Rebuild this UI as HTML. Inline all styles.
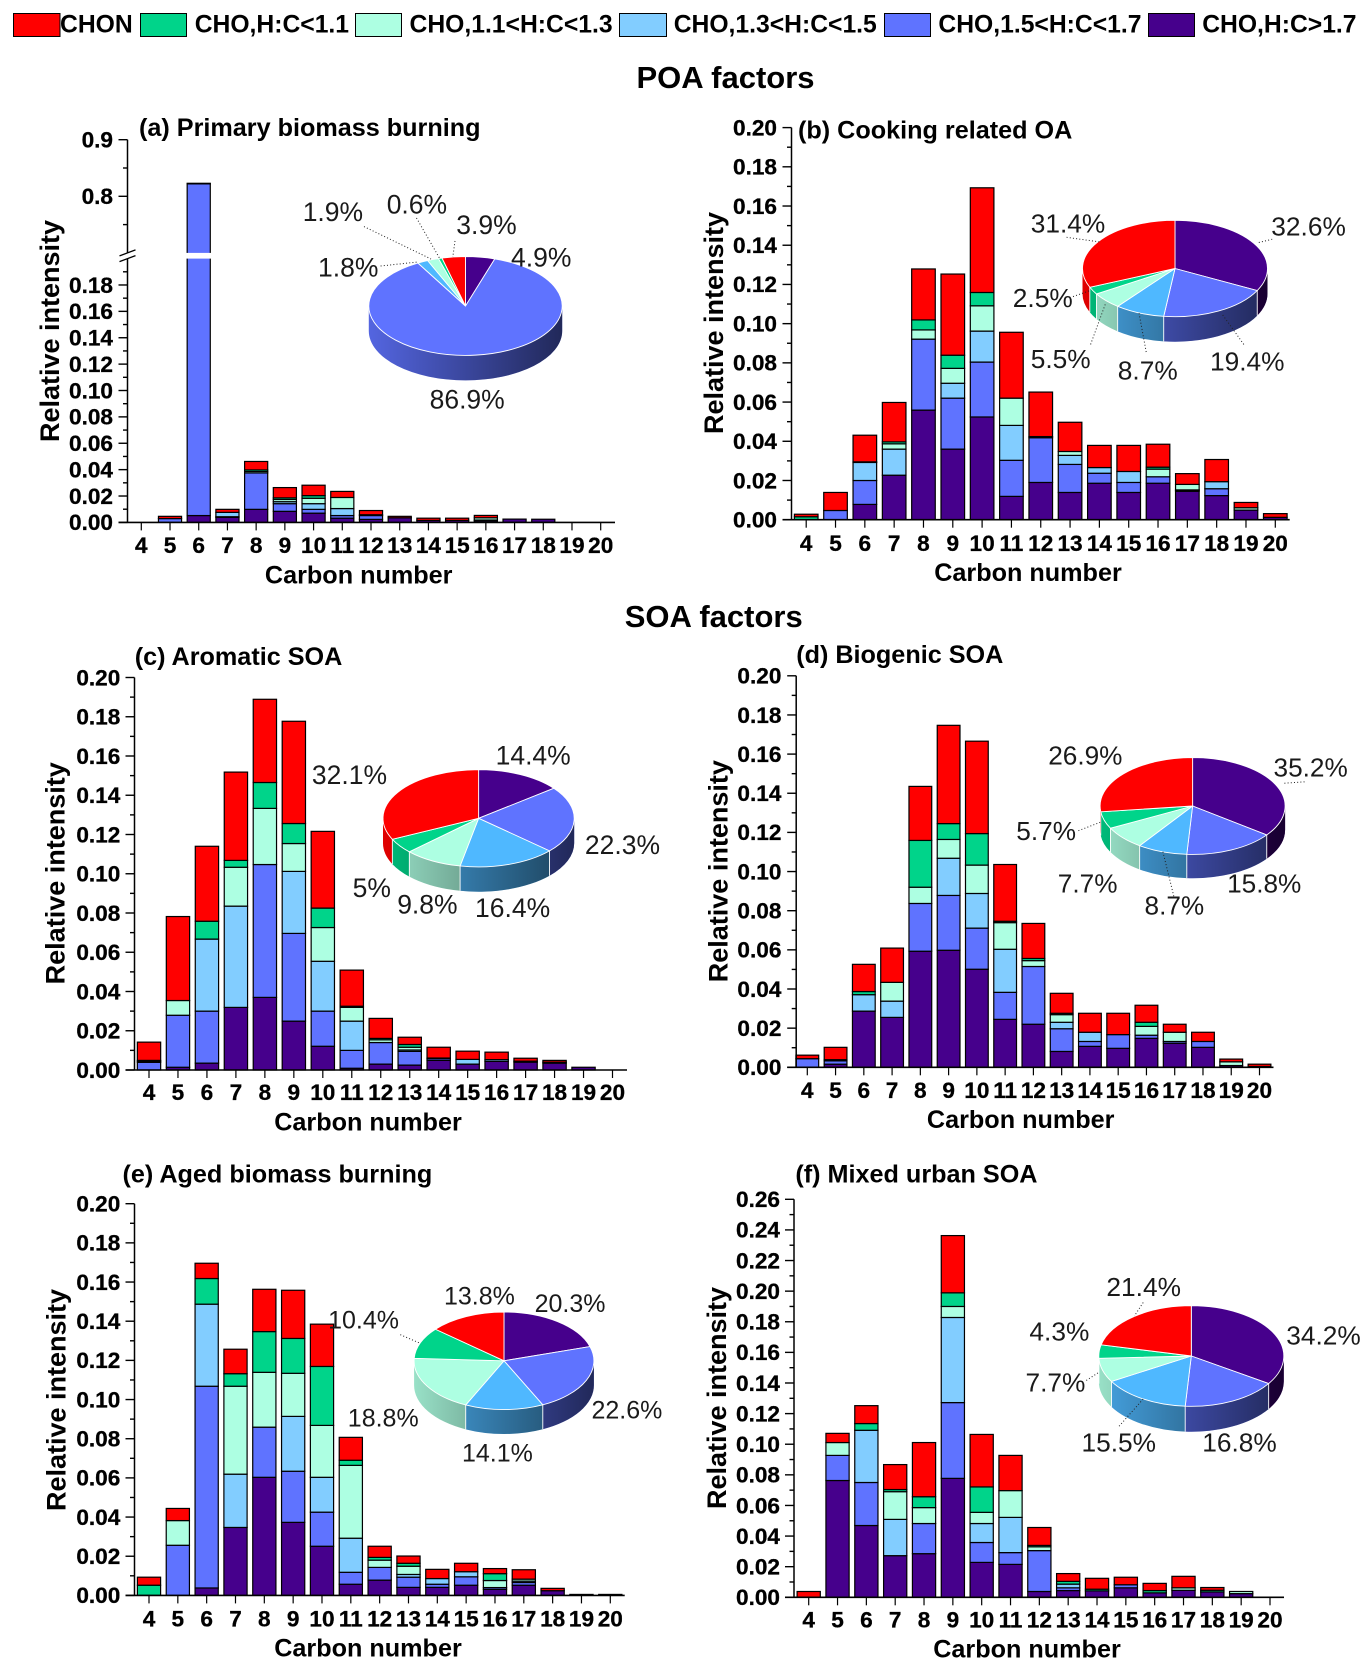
<!DOCTYPE html>
<html lang="en">
<head>
<meta charset="utf-8">
<title>Carbon number distribution of OA factors</title>
<style>
html,body{margin:0;padding:0;background:#fff;}
svg{display:block;font-family:"Liberation Sans",Arial,sans-serif;}
.legend-text{font-size:24.7px;font-weight:700;fill:#000;}
.section{font-size:31px;font-weight:700;fill:#000;}
</style>
</head>
<body>
<svg id="root" xmlns="http://www.w3.org/2000/svg" width="1372" height="1671" viewBox="0 0 1372 1671">
  <rect x="0" y="0" width="1372" height="1671" fill="#fff"/>
  <g>
    <g><rect x="13.5" y="13.5" width="46.5" height="23" fill="#FF0000" stroke="#000" stroke-width="1"/><text class="legend-text" x="60" y="32.5">CHON</text></g>
    <g><rect x="140.5" y="13.5" width="46" height="23" fill="#00D48A" stroke="#000" stroke-width="1"/><text class="legend-text" x="194.7" y="32.5">CHO,H:C&lt;1.1</text></g>
    <g><rect x="355.5" y="13.5" width="46" height="23" fill="#ADFFE2" stroke="#000" stroke-width="1"/><text class="legend-text" x="409.5" y="32.5">CHO,1.1&lt;H:C&lt;1.3</text></g>
    <g><rect x="619.5" y="13.5" width="47" height="23" fill="#82CDFF" stroke="#000" stroke-width="1"/><text class="legend-text" x="673.7" y="32.5">CHO,1.3&lt;H:C&lt;1.5</text></g>
    <g><rect x="884.5" y="13.5" width="46" height="23" fill="#5F73FF" stroke="#000" stroke-width="1"/><text class="legend-text" x="938.4" y="32.5">CHO,1.5&lt;H:C&lt;1.7</text></g>
    <g><rect x="1148.5" y="13.5" width="46" height="23" fill="#46008C" stroke="#000" stroke-width="1"/><text class="legend-text" x="1202.2" y="32.5">CHO,H:C&gt;1.7</text></g>
  </g>
  <text class="section" x="636.5" y="88">POA factors</text>
  <text class="section" x="624.7" y="627">SOA factors</text>
</svg>
<script>
// Categories and axis labels
const carbonNumbers = [4,5,6,7,8,9,10,11,12,13,14,15,16,17,18,19,20];
const yTickLabels = ['0.00','0.02','0.04','0.06','0.08','0.10','0.12','0.14','0.16','0.18','0.20'];
const yTickLabelsF = ['0.00','0.02','0.04','0.06','0.08','0.10','0.12','0.14','0.16','0.18','0.20','0.22','0.24','0.26'];
const yTickLabelsA = ['0.00','0.02','0.04','0.06','0.08','0.10','0.12','0.14','0.16','0.18','0.8','0.9'];
const yMinorValues = [0.01,0.03,0.05,0.07,0.09,0.11,0.13,0.15,0.17,0.19];
const yMinorValuesF = [0.01,0.03,0.05,0.07,0.09,0.11,0.13,0.15,0.17,0.19,0.21,0.23,0.25];
const yMinorValuesA = [0.01,0.03,0.05,0.07,0.09,0.11,0.13,0.15,0.17,0.19,0.75,0.85];

// (a) Primary biomass burning
const aPurple=[0,0,.0052,.0038,.0099,.0084,.007,.0032,.0023,.0035,.0015,.0015,.0012,.0025,.0024,0,0];
const aBlue=[0,.0029,.8168,.0005,.0276,.0058,.0029,.002,.0029,0,0,0,.0006,0,0,0,0];
const aLight=[0,0,0,.0033,0,.0015,.0043,.0053,.0006,0,0,0,0,0,0,0,0];
const aMint=[0,0,0,0,.0011,.0017,.0041,.0084,0,0,0,0,.0017,0,0,0,0];
const aGreen=[0,0,0,0,.0012,.0012,.002,0,0,0,0,0,0,0,0,0,0];
const aRed=[0,.0017,.001,.0023,.0064,.0078,.0079,.0046,.0032,.0011,.0017,.0017,.0018,0,0,0,0];
const aShares=[4.9,86.9,1.8,1.9,0.6,3.9];

// (b) Cooking related OA
const bPurple=[0,0,.0078,.0227,.0559,.036,.0524,.0119,.019,.0139,.0186,.0139,.0186,.0145,.0123,.0049,.0012];
const bBlue=[0,.0047,.0122,0,.0362,.026,.028,.0184,.0228,.0143,.0051,.0051,.0033,.0005,.0035,0,0];
const bLight=[0,0,.0092,.0133,0,.0076,.0158,.0178,0,.0046,.0029,.0056,0,.0002,.0036,0,0];
const bMint=[0,0,.0003,.0027,.0047,.0076,.0129,.0139,0,.002,0,0,.0039,.0028,0,.0012,0];
const bGreen=[.0015,0,0,.001,.0051,.0067,.0068,0,.0006,0,0,0,.001,0,0,0,0];
const bRed=[.0013,.0092,.0136,.0201,.026,.0414,.0534,.0336,.0227,.0149,.0113,.0133,.0117,.0055,.0113,.0027,.0019];
const bShares=[32.6,19.4,8.7,5.5,2.5,31.4];

// (c) Aromatic SOA
const cPurple=[0,.0014,.0035,.0319,.037,.0249,.0121,.0009,.003,.0025,.0049,.003,.0044,.004,.0035,.0014,0];
const cBlue=[.0039,.0265,.0265,0,.0677,.0447,.0179,.0091,.011,.007,.0009,0,0,.0005,.0005,0,0];
const cLight=[0,0,.0367,.0516,0,.0316,.0254,.0149,0,.0007,.0003,.0024,.0009,0,0,0,0];
const cMint=[.0005,.0075,0,.0198,.0286,.0142,.0172,.007,.0014,.0014,0,0,0,0,0,0,0];
const cGreen=[.0005,0,.0091,.0035,.0132,.0102,.0099,.0006,.0007,.0014,0,0,0,0,0,0,0];
const cRed=[.0093,.0428,.0382,.045,.0424,.0521,.0391,.0184,.0102,.0037,.0055,.0042,.0038,.0015,.0009,0,0];
const cShares=[14.4,22.3,16.4,9.8,5,32.1];

// (d) Biogenic SOA
const dPurple=[0,.0016,.0287,.0255,.0593,.0598,.0501,.0245,.022,.0081,.0107,.0097,.0148,.0123,.0102,.0009,.0004];
const dBlue=[.0044,.0017,0,0,.0244,.028,.021,.0138,.0295,.0116,.0025,.007,.0016,.0009,.003,0,0];
const dLight=[0,.0006,.0084,.0083,0,.019,.0177,.022,0,.0033,.0047,0,0,0,0,0,0];
const dMint=[0,0,0,.0096,.0083,.0096,.0145,.0136,.003,.0039,0,0,.0045,.0047,0,.0019,0];
const dGreen=[0,0,.0016,0,.0239,.0081,.0161,.0007,.0011,.0007,0,0,.0021,0,0,0,0];
const dRed=[.0018,.0063,.0139,.0175,.0276,.0502,.0472,.029,.0179,.0102,.0097,.0109,.0087,.0041,.0047,.0014,.0012];
const dShares=[35.2,15.8,8.7,7.7,5.7,26.9];

// (e) Aged biomass burning
const ePurple=[0,0,.0038,.0347,.0603,.0373,.0251,.0057,.0078,.0041,.0041,.0052,.0031,.0052,.0024,.0005,.0005];
const eBlue=[0,.0256,.103,0,.0256,.0261,.0174,.0061,.0065,.0052,.0016,.0043,.0009,.0014,0,0,0];
const eLight=[0,0,.0419,.0272,0,.028,.0178,.0174,0,.0014,.0029,.0026,0,.0007,0,0,0];
const eMint=[0,.0126,0,.0449,.028,.022,.0265,.0372,.0037,.0042,0,0,.0036,.001,0,0,0];
const eGreen=[.0052,0,.0131,.0064,.0208,.0178,.0301,.0026,.0014,.0015,0,0,.0035,0,0,0,0];
const eRed=[.0041,.0062,.0078,.0125,.0216,.0246,.0216,.0117,.0057,.0037,.0047,.0043,.0026,.0048,.0012,0,0];
const eShares=[20.3,22.6,14.1,18.8,10.4,13.8];

// (f) Mixed urban SOA
const fPurple=[0,.0763,.0469,.0272,.0285,.0777,.0228,.0215,.0038,.0044,.0042,.0062,.0029,.0046,.0035,.0024,0];
const fBlue=[0,.0164,.0281,0,.0197,.0495,.013,.0077,.0267,.0018,0,.002,0,0,0,0,0];
const fLight=[0,0,.0341,.0237,0,.0556,.0124,.023,0,.0024,0,0,0,0,0,0,0];
const fMint=[0,.0084,0,.0181,.0104,.0072,.0073,.0175,.0025,0,0,0,0,.0016,0,.0014,0];
const fGreen=[0,0,.0044,.0014,.0071,.0089,.0166,0,.0009,.0018,.0011,0,.0015,0,.0011,0,0];
const fRed=[.0038,.006,.0117,.0163,.0354,.0374,.0343,.023,.0117,.0051,.0071,.0049,.0047,.0075,.0018,0,0];
const fShares=[34.2,16.8,15.5,7.7,4.3,21.4];

const seriesNames=['cho-above-1-7','cho-1-5-to-1-7','cho-1-3-to-1-5','cho-1-1-to-1-3','cho-below-1-1','chon'];
const barColors=['#46008C','#5F73FF','#82CDFF','#ADFFE2','#00D48A','#FF0000'];
const pieColors=['#46008C','#5F73FF','#4FB8FF','#ADFFE2','#00D48A','#FF0000'];

const NS='http://www.w3.org/2000/svg';
const root=document.getElementById('root');
function make(parent,tag,attrs,text){
  const el=document.createElementNS(NS,tag);
  for(const k in attrs){el.setAttribute(k,attrs[k]);}
  if(text!==undefined){el.textContent=text;}
  parent.appendChild(el);
  return el;
}

const panels=[
 {id:'a',title:'(a) Primary biomass burning',titleX:139,titleY:135.9,spine:127.5,right:615,x4:141.3,x20:600.7,y0:522.4,yMax:0.2,yTop:258.6,
  broken:{k:566,y8:196.3,top:139.7,gapTop:252.9,gapBottom:258.6},ticks:yTickLabelsA,minor:yMinorValuesA,tickEnd:113,labelSize:26.5,
  series:[aPurple,aBlue,aLight,aMint,aGreen,aRed],shares:aShares,
  pie:{cx:465.5,cy:306,rx:96.7,ry:49.4,d:25},
  spots:[[511,266.7],[429.6,408.7],[318,276.3],[302.7,221.2],[386.7,213.5],[456.3,234.2]],
  leaders:[[364,226.6,431,259],[416.5,218,439.6,258.3],[455,241,452.8,257],[380.6,266,417.8,262]],
  xLabelY:553,xTitleY:583.6,xTitleX:358.7,yTitleX:59,yTitleY:331},
 {id:'b',title:'(b) Cooking related OA',titleX:798,titleY:138.5,spine:791.5,right:1289.7,x4:806.2,x20:1275.3,y0:519.7,yMax:0.2,yTop:127.6,
  ticks:yTickLabels,minor:yMinorValues,tickEnd:777,labelSize:26.3,
  series:[bPurple,bBlue,bLight,bMint,bGreen,bRed],shares:bShares,
  pie:{cx:1175,cy:268.5,rx:92.5,ry:48.2,d:25},
  spots:[[1271.3,235.3],[1210,370.4],[1117.8,379.6],[1030.7,368.1],[1012.8,306.9],[1030.7,232.3]],
  leaders:[[1066.6,237.3,1099.4,241.9],[1272.2,239.2,1256.9,243],[1073,296.6,1089.3,290.8],[1090.6,344.4,1106,302.3],[1146.2,352,1138.8,311.9],[1243.8,344.4,1221.9,313.8]],
  xLabelY:551,xTitleY:581,xTitleX:1028,yTitleX:723,yTitleY:323},
 {id:'c',title:'(c) Aromatic SOA',titleX:134.7,titleY:664.8,spine:134.5,right:627,x4:149,x20:612.5,y0:1070,yMax:0.2,yTop:677.5,
  ticks:yTickLabels,minor:yMinorValues,tickEnd:120.3,labelSize:26.5,
  series:[cPurple,cBlue,cLight,cMint,cGreen,cRed],shares:cShares,
  pie:{cx:478.6,cy:818.3,rx:95.6,ry:48.6,d:24.8},
  spots:[[495.6,764.6],[584.9,853.8],[475,916.8],[397.2,913.4],[352.6,896.9],[311.9,784.2]],
  leaders:[],
  xLabelY:1100,xTitleY:1130.3,xTitleX:368,yTitleX:64.7,yTitleY:873.3},
 {id:'d',title:'(d) Biogenic SOA',titleX:796.2,titleY:663,spine:796.2,right:1273.5,x4:807.3,x20:1259.5,y0:1067.3,yMax:0.2,yTop:675.8,
  ticks:yTickLabels,minor:yMinorValues,tickEnd:781.4,labelSize:26.2,
  series:[dPurple,dBlue,dLight,dMint,dGreen,dRed],shares:dShares,
  pie:{cx:1192.6,cy:806,rx:92.5,ry:48.4,d:23.8},
  spots:[[1273.5,776.3],[1227.1,892.7],[1144.5,914.4],[1057.8,892.7],[1016.3,840],[1048.2,764.6]],
  leaders:[[1284.4,783.2,1305,781.8],[1078.4,830.7,1100.7,822.1],[1173.8,896.2,1162.8,851.4]],
  xLabelY:1098,xTitleY:1128,xTitleX:1020.7,yTitleX:727.6,yTitleY:871.2},
 {id:'e',title:'(e) Aged biomass burning',titleX:122.5,titleY:1182.3,spine:134.5,right:624.7,x4:149,x20:610.3,y0:1595.4,yMax:0.2,yTop:1203.7,
  ticks:yTickLabels,minor:yMinorValues,tickEnd:120.3,labelSize:25,
  series:[ePurple,eBlue,eLight,eMint,eGreen,eRed],shares:eShares,
  pie:{cx:504,cy:1360.8,rx:89.9,ry:48.8,d:24.4},
  spots:[[534.6,1312],[591.5,1418.4],[462,1461.7],[347.8,1426.5],[328.1,1328.3],[444,1304.6]],
  leaders:[[400.3,1334.7,420,1343.2]],
  xLabelY:1626.5,xTitleY:1656.4,xTitleX:368,yTitleX:65.6,yTitleY:1400},
 {id:'f',title:'(f) Mixed urban SOA',titleX:795.4,titleY:1182.3,spine:794,right:1284,x4:808.7,x20:1270,y0:1597.3,yMax:0.26,yTop:1199.3,
  ticks:yTickLabelsF,minor:yMinorValuesF,tickEnd:780,labelSize:26.3,
  series:[fPurple,fBlue,fLight,fMint,fGreen,fRed],shares:fShares,
  pie:{cx:1191.3,cy:1356,rx:92.5,ry:50.3,d:25.4},
  spots:[[1286.2,1344.5],[1202.2,1451.5],[1081.5,1451.5],[1025.5,1391.3],[1029.4,1340.5],[1106.4,1295.8]],
  leaders:[[1143.2,1302.5,1134.4,1316],[1086.3,1380.4,1099.4,1372],[1119.1,1426.2,1143.2,1399]],
  xLabelY:1627.7,xTitleY:1657.4,xTitleX:1027,yTitleX:726,yTitleY:1398}
];

function drawAxes(p,g,xScale,yScale){
  // y spine
  if(p.broken){
    const s1=make(g,'line',{x1:p.spine,x2:p.spine,y1:p.y0,y2:p.broken.gapBottom,stroke:'#000','stroke-width':1.5});
    
    
    const s2=make(g,'line',{x1:p.spine,x2:p.spine,y1:p.broken.gapTop,y2:p.broken.top,stroke:'#000','stroke-width':1.5});
    
    
    const b1=make(g,'line',{x1:p.spine-8,y1:p.broken.gapTop+3,x2:p.spine+8,y2:p.broken.gapTop-3,stroke:'#000','stroke-width':1.3});
    
    
    const b2=make(g,'line',{x1:p.spine-8,y1:p.broken.gapBottom+3,x2:p.spine+8,y2:p.broken.gapBottom-3,stroke:'#000','stroke-width':1.3});
    
    
  } else {
    const s=make(g,'line',{x1:p.spine,x2:p.spine,y1:p.y0,y2:p.yTop,stroke:'#000','stroke-width':1.5});
    
    
  }
  // x axis line
  const xl=make(g,'line',{x1:p.spine-9,x2:p.right,y1:p.y0,y2:p.y0,stroke:'#000','stroke-width':1.6});
  
  
  // y ticks
  p.ticks.forEach(function(label){
    const v=parseFloat(label);
    const y=yScale(v);
    const t=make(g,'line',{x1:p.spine-9,x2:p.spine,y1:y,y2:y,stroke:'#000','stroke-width':1.4});
    
    
    const tx=make(g,'text',{x:p.tickEnd,y:y+7.8,'text-anchor':'end','font-size':'22.6','font-weight':700,fill:'#000',stroke:'#000','stroke-width':0.3},label);
    
    
  });
  p.minor.forEach(function(v){
    const y=yScale(v);
    const t=make(g,'line',{x1:p.spine-4.5,x2:p.spine,y1:y,y2:y,stroke:'#000','stroke-width':1.4});
    
    
  });
  // x ticks
  carbonNumbers.forEach(function(c){
    const x=xScale(c);
    const t=make(g,'line',{x1:x,x2:x,y1:p.y0,y2:p.y0+8,stroke:'#000','stroke-width':1.2});
    
    
    const tx=make(g,'text',{x:x,y:p.xLabelY,'text-anchor':'middle','font-size':'22.6','font-weight':700,fill:'#000',stroke:'#000','stroke-width':0.3},String(c));
    
    
  });
  const xt=make(g,'text',{x:p.xTitleX,y:p.xTitleY,'text-anchor':'middle','font-size':25.2,'font-weight':700,fill:'#000'},'Carbon number');
  
  
  const yt=make(g,'text',{x:0,y:0,'text-anchor':'middle','font-size':27,'font-weight':700,fill:'#000',transform:'translate('+p.yTitleX+','+p.yTitleY+') rotate(-90)'},'Relative intensity');
  
  
  const pt=make(g,'text',{x:p.titleX,y:p.titleY,'font-size':25.2,'font-weight':700,fill:'#000'},p.title);
  
  
}

function drawBars(p,g,xScale,yScale){
  const step=(p.x20-p.x4)/16;
  const w=step*0.805;
  carbonNumbers.forEach(function(c,i){
    let sum=0;
    p.series.forEach(function(values,s){
      const v=values[i];
      if(v<=0){return;}
      const yBottom=yScale(sum);
      sum+=v;
      const yTop=yScale(sum);
      const r=make(g,'rect',{x:xScale(c)-w/2,y:yTop,width:w,height:Math.max(yBottom-yTop,0.1),fill:barColors[s],stroke:'#000','stroke-width':1.2});
      
      
    });
  });
  if(p.broken){
    const gap=make(g,'rect',{x:xScale(6)-step*0.805/2-2,y:p.broken.gapTop,width:step*0.805+4,height:p.broken.gapBottom-p.broken.gapTop,fill:'#fff'});
    
    
  }
}

function drawPie(p,g){
  const c=p.pie;
  const total=p.shares.reduce(function(a,b){return a+b;},0);
  const pt=function(t){return [c.cx+c.rx*Math.sin(t),c.cy-c.ry*Math.cos(t)];};
  const gradId='side-shade-'+p.id;
  const defs=make(g,'defs',{});
  const grad=make(defs,'linearGradient',{id:gradId,gradientUnits:'userSpaceOnUse',x1:c.cx-c.rx,x2:c.cx+c.rx,y1:0,y2:0});
  make(grad,'stop',{offset:'0','stop-color':'#000','stop-opacity':'0.12'});
  make(grad,'stop',{offset:'1','stop-color':'#000','stop-opacity':'0.65'});
  let angle=0;
  const slices=p.shares.map(function(v,i){
    const a=angle;
    angle+=v/total*Math.PI*2;
    return {a:a,b:angle,color:pieColors[i],name:seriesNames[i]};
  });
  // side walls
  slices.forEach(function(s){
    const a=Math.max(s.a,Math.PI/2);
    const b=Math.min(s.b,Math.PI*1.5);
    if(a>=b){return;}
    const pa=pt(a);
    const pb=pt(b);
    const d='M'+pa[0]+' '+pa[1]+'A'+c.rx+' '+c.ry+' 0 0 1 '+pb[0]+' '+pb[1]+'L'+pb[0]+' '+(pb[1]+c.d)+'A'+c.rx+' '+c.ry+' 0 0 0 '+pa[0]+' '+(pa[1]+c.d)+'Z';
    const side=make(g,'path',{d:d,fill:s.color});
    
    
    const shade=make(g,'path',{d:d,fill:'url(#'+gradId+')'});
    
    
    if(s.a>Math.PI/2 && s.a<Math.PI*1.5){
      const e=make(g,'line',{x1:pa[0],x2:pa[0],y1:pa[1],y2:pa[1]+c.d,stroke:'#fff','stroke-width':0.9});
      
      
    }
  });
  // top face
  slices.forEach(function(s){
    const pa=pt(s.a);
    const pb=pt(s.b);
    const large=(s.b-s.a)>Math.PI?1:0;
    const d='M'+c.cx+' '+c.cy+'L'+pa[0]+' '+pa[1]+'A'+c.rx+' '+c.ry+' 0 '+large+' 1 '+pb[0]+' '+pb[1]+'Z';
    const f=make(g,'path',{d:d,fill:s.color,stroke:'#fff','stroke-width':0.9});
    
    
  });
  // leader lines
  p.leaders.forEach(function(l){
    const ln=make(g,'line',{x1:l[0],y1:l[1],x2:l[2],y2:l[3],stroke:'#222','stroke-width':1,'stroke-dasharray':'1 2.2'});
    
    
  });
  // labels
  p.shares.forEach(function(v,i){
    const at=p.spots[i];
    const t=make(g,'text',{x:at[0],y:at[1],'font-size':p.labelSize,fill:'#1a1a1a'},v+'%');
    
    
  });
}

panels.forEach(function(p){
  const g=make(root,'g',{});
  
  
  const step=(p.x20-p.x4)/16;
  const xScale=function(c){return p.x4+(c-4)*step;};
  const lowK=(p.y0-p.yTop)/p.yMax;
  const yScale=function(v){
    if(p.broken && v>p.yMax){return p.broken.y8-(v-0.8)*p.broken.k;}
    return p.y0-v*lowK;
  };
  drawBars(p,g,xScale,yScale);
  drawAxes(p,g,xScale,yScale);
  drawPie(p,g);
});
</script>
</body>
</html>
